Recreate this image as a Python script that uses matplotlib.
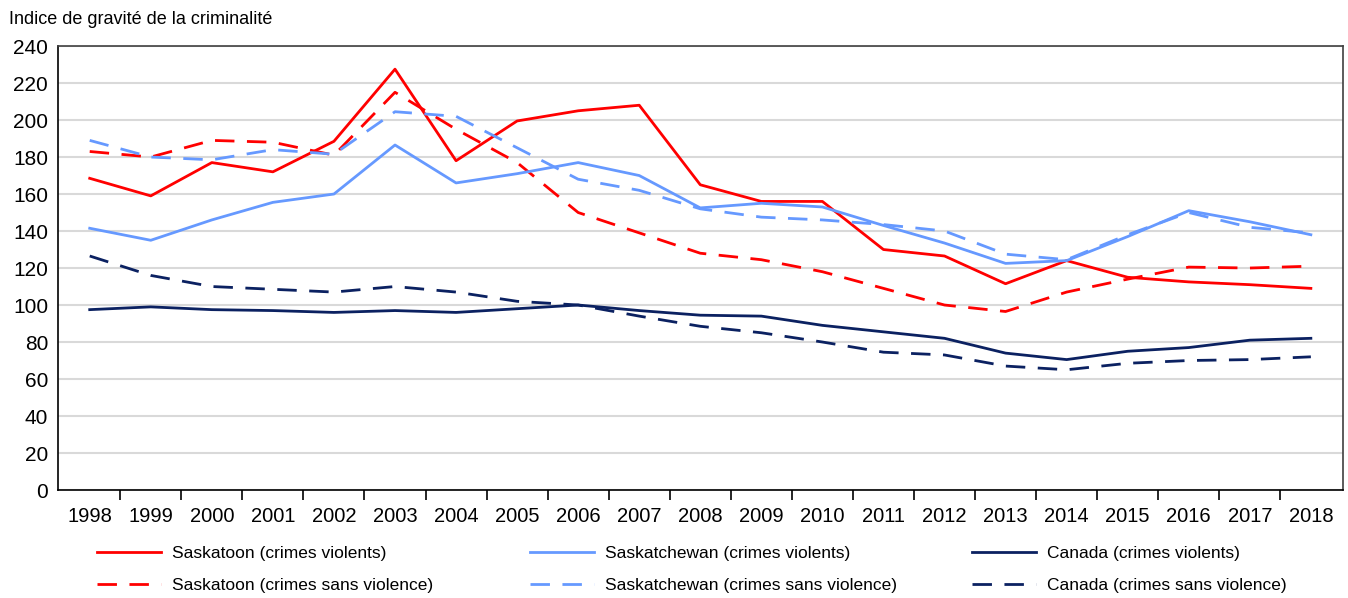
import numpy as np
import matplotlib.pyplot as plt
from matplotlib import font_manager

years = [str(y) for y in range(1998, 2019)]

saskatoon_violent = [168.5, 159, 177, 172, 188.5, 227.5, 178, 199.5, 205, 208, 165,
                     156, 156, 130, 126.5, 111.5, 124, 115, 112.5, 111, 109]
saskatoon_nonviolent = [183, 180, 189, 188, 181, 215, 195, 177, 150, 139, 128,
                        124.5, 118, 109, 100, 96.5, 107, 114, 120.5, 120, 121]
sask_violent = [141.5, 135, 146, 155.5, 160, 186.5, 166, 171, 177, 170, 152.5,
                155, 153, 143, 133.5, 122.5, 124, 137, 151, 145, 138]
sask_nonviolent = [189, 180, 178.5, 184, 181.5, 204.5, 202, 185, 168, 162, 152,
                   147.5, 146, 143.5, 140, 127.5, 124.5, 138, 150, 142, 139]
canada_violent = [97.5, 99, 97.5, 97, 96, 97, 96, 98, 100, 97, 94.5,
                  94, 89, 85.5, 82, 74, 70.5, 75, 77, 81, 82]
canada_nonviolent = [126.5, 116, 110, 108.5, 107, 110, 107, 102, 100, 94, 88.5,
                     85, 80, 74.5, 73, 67, 65, 68.5, 70, 70.5, 72]

names = [f.name for f in font_manager.fontManager.ttflist]
fam = 'Liberation Sans Narrow' if 'Liberation Sans Narrow' in names else 'Liberation Sans'
plt.rcParams['font.family'] = [fam, 'DejaVu Sans']

red = '#ff0000'
lblue = '#6699ff'
navy = '#0b2161'

fig = plt.figure(figsize=(13.48, 5.98), dpi=100)
ax = fig.add_axes([0.043, 0.1806, 0.953, 0.7424])

x = np.arange(len(years))
lw = 2.0
dash = (0, (7, 4.5))
l1, = ax.plot(x, saskatoon_violent, color=red, lw=lw, label='Saskatoon (crimes violents)')
l2, = ax.plot(x, saskatoon_nonviolent, color=red, lw=lw, ls=dash, label='Saskatoon (crimes sans violence)')
l3, = ax.plot(x, sask_violent, color=lblue, lw=lw, label='Saskatchewan (crimes violents)')
l4, = ax.plot(x, sask_nonviolent, color=lblue, lw=lw, ls=dash, label='Saskatchewan (crimes sans violence)')
l5, = ax.plot(x, canada_violent, color=navy, lw=lw, label='Canada (crimes violents)')
l6, = ax.plot(x, canada_nonviolent, color=navy, lw=lw, ls=dash, label='Canada (crimes sans violence)')

ax.set_xlim(-0.52, len(years) - 0.48)
ax.set_ylim(0, 240)
ax.set_yticks(range(0, 241, 20))
ax.yaxis.grid(True, color='#d9d9d9', lw=1.5)
ax.set_axisbelow(True)
ax.tick_params(axis='y', length=0, labelsize=15, pad=7)

ax.set_xticks(x)
ax.set_xticklabels(years)
ax.tick_params(axis='x', which='major', length=0, labelsize=14.5, pad=12)
ax.set_xticks(np.arange(0.5, len(years) - 1, 1), minor=True)
ax.tick_params(axis='x', which='minor', length=7, width=1.2, direction='out', color='black')

for s in ['left', 'bottom']:
    ax.spines[s].set_color('black')
    ax.spines[s].set_linewidth(1.2)
for s in ['top', 'right']:
    ax.spines[s].set_color('#404040')
    ax.spines[s].set_linewidth(1.2)

fig.text(0.007, 0.968, 'Indice de gravité de la criminalité', fontsize=13, va='center', ha='left')

# three legend columns placed like the original
for xpos, hs in [(97, [l1, l2]), (530, [l3, l4]), (972, [l5, l6])]:
    leg = fig.legend(handles=hs, loc='lower left', bbox_to_anchor=(xpos / 1348, 0.008),
                     frameon=False, fontsize=12.5, handlelength=3.7, handletextpad=0.6,
                     labelspacing=1.0, borderpad=0, borderaxespad=0)

fig.savefig('out.png', dpi=100)
